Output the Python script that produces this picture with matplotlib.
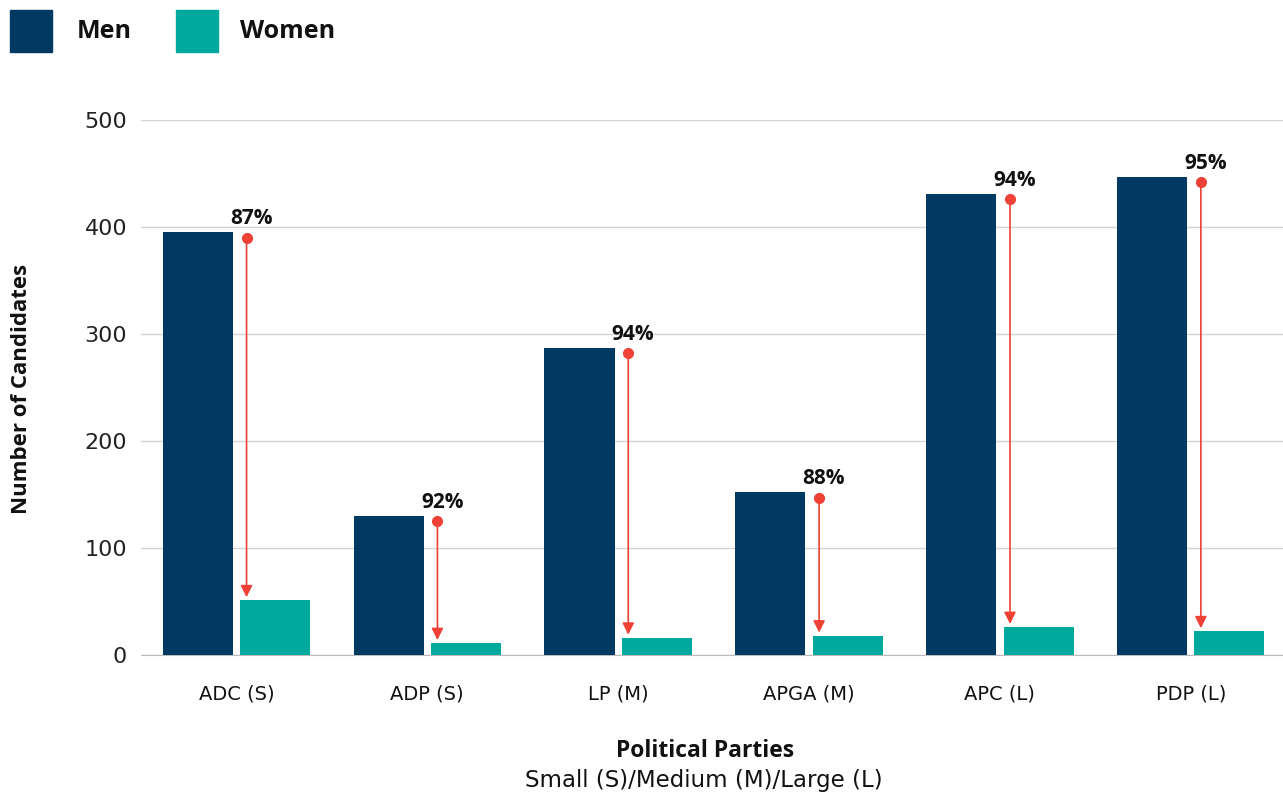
import matplotlib
matplotlib.use("Agg")
import matplotlib.pyplot as plt
from matplotlib.patches import Rectangle
import numpy as np

categories = ["ADC (S)", "ADP (S)", "LP (M)", "APGA (M)", "APC (L)", "PDP (L)"]
men = [395, 130, 287, 152, 431, 447]
women = [51, 11, 16, 18, 26, 22]
pct_labels = ["87%", "92%", "94%", "88%", "94%", "95%"]
yticks = [0, 100, 200, 300, 400, 500]

MEN_C = "#003A63"
WOMEN_C = "#00A99D"
RED = "#EF4136"
BOLD_FONT = ["Open Sans", "DejaVu Sans"]
REG_FONT = ["DejaVu Sans"]

plt.rcParams['font.family'] = BOLD_FONT

W, H = 1283, 795
fig = plt.figure(figsize=(W/100, H/100), dpi=100)
ax = fig.add_axes([141/W, 1-655/H, (1290-141)/W, 535/H])

x = np.arange(len(categories))
bw = 0.367
off = 0.2025
ax.bar(x - off, men, width=bw, color=MEN_C, zorder=3)
ax.bar(x + off, women, width=bw, color=WOMEN_C, zorder=3)

ax.set_xlim(-0.5, 5.52)
ax.set_ylim(0, 500)
ax.set_yticks(yticks)
ax.grid(axis='y', color='#d4d4d4', linewidth=1, zorder=0)
ax.set_axisbelow(True)
for s in ['top', 'right', 'left']:
    ax.spines[s].set_visible(False)
ax.spines['bottom'].set_color('#bbbbbb')
ax.tick_params(axis='y', length=0, pad=10)
ax.tick_params(axis='x', length=0, pad=21)
ax.set_xticks(x)
ax.set_xticklabels(categories, family=REG_FONT, fontsize=14, color='#111111')
ax.set_yticklabels([str(v) for v in yticks], family=REG_FONT, fontsize=16, color='#222222')

fig.text(22/W, 1-389/H, "Number of Candidates", rotation=90, fontsize=16, fontweight='bold',
         ha='center', va='center', color='#111111')

arrow_dx = 0.053
for i in range(len(categories)):
    xa = x[i] + arrow_dx
    y0 = men[i] - 5
    y1 = women[i] + 3
    ax.annotate("", xy=(xa, y1), xytext=(xa, y0),
                arrowprops=dict(arrowstyle='-|>,head_length=0.7,head_width=0.35', color=RED, lw=1.2,
                                shrinkA=0, shrinkB=0), zorder=5)
    ax.plot([xa], [y0], 'o', color=RED, markersize=7, zorder=6)
    ax.text(xa + 0.025, y0 + 8, pct_labels[i], ha='center', va='bottom', fontsize=15,
            fontweight='bold', color='#111111', zorder=6)

# legend
fig.patches.append(Rectangle((10/W, 1-52/H), 42/W, 42/H, transform=fig.transFigure, color=MEN_C))
fig.patches.append(Rectangle((176/W, 1-52/H), 42/W, 42/H, transform=fig.transFigure, color=WOMEN_C))
fig.text(77/W, 1-31/H, "Men", fontsize=18, fontweight='bold', va='center', ha='left', color='#111111')
fig.text(240/W, 1-31/H, "Women", fontsize=18, fontweight='bold', va='center', ha='left', color='#111111')

fig.text(705/W, 1-751/H, "Political Parties", fontsize=16.5, fontweight='bold', ha='center', va='center', color='#111111')
fig.text(704/W, 1-781/H, "Small (S)/Medium (M)/Large (L)", fontsize=16.5, family=REG_FONT,
         ha='center', va='center', color='#111111')

fig.savefig("out.png", dpi=100)
